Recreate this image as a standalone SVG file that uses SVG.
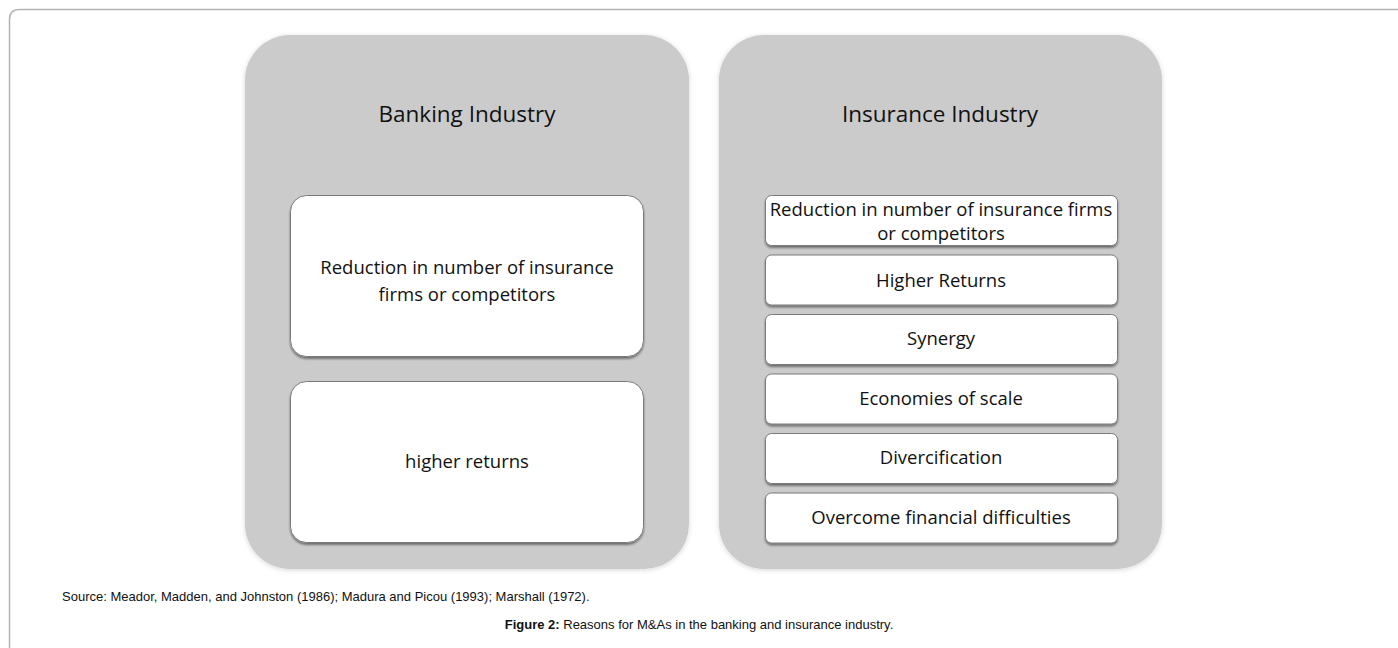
<svg xmlns="http://www.w3.org/2000/svg" width="1398" height="648" viewBox="0 0 1398 648">
  <defs>
    <filter id="panelShadow" x="-10%" y="-10%" width="120%" height="120%">
      <feDropShadow dx="0" dy="1" stdDeviation="2.5" flood-color="#000" flood-opacity="0.16"/>
    </filter>
    <filter id="boxShadow" x="-5%" y="-10%" width="110%" height="130%">
      <feDropShadow dx="0" dy="2" stdDeviation="1.2" flood-color="#000" flood-opacity="0.45"/>
    </filter>
    <style>
      .frame { fill: none; stroke: #b3b3b3; stroke-width: 1.5; }
      .panel { fill: #cbcbcb; filter: url(#panelShadow); }
      .box { fill: #ffffff; stroke: #7a7a7a; stroke-width: 1; filter: url(#boxShadow); }
      .title { font-family: "Open Sans", "Liberation Sans", sans-serif; font-size: 22.5px; fill: #111; text-anchor: middle; }
      .label { font-family: "Open Sans", "Liberation Sans", sans-serif; font-size: 18.5px; fill: #111; text-anchor: middle; }
      .caption { font-family: "Liberation Sans", Arial, sans-serif; font-size: 13px; fill: #111; }
    </style>
  </defs>

  <rect width="1398" height="648" fill="#ffffff"/>

  <!-- page frame, open to the right and bottom -->
  <path class="frame" d="M9.5,660 V19.5 Q9.5,9.5 19.5,9.5 H1400"/>

  <!-- Banking industry column -->
  <g id="banking">
    <rect class="panel" x="245" y="35" width="444" height="534" rx="45" ry="45"/>
    <text class="title" x="467" y="122">Banking Industry</text>
  </g>
  <g id="banking-reduction">
    <rect class="box" x="290.5" y="195.5" width="353" height="161" rx="16" ry="16"/>
    <text class="label" x="467" y="274">Reduction in number of insurance</text>
    <text class="label" x="467" y="301">firms or competitors</text>
  </g>
  <g id="banking-returns">
    <rect class="box" x="290.5" y="381.5" width="353" height="161" rx="16" ry="16"/>
    <text class="label" x="467" y="468">higher returns</text>
  </g>

  <!-- Insurance industry column -->
  <g id="insurance">
    <rect class="panel" x="719" y="35" width="443" height="534" rx="45" ry="45"/>
    <text class="title" x="940" y="122">Insurance Industry</text>
  </g>
  <g id="insurance-reduction">
    <rect class="box" x="765.5" y="195.5" width="352" height="50" rx="6" ry="6"/>
    <text class="label" x="941" y="216">Reduction in number of insurance firms</text>
    <text class="label" x="941" y="240">or competitors</text>
  </g>
  <g id="insurance-returns">
    <rect class="box" x="765.5" y="255" width="352" height="50" rx="6" ry="6"/>
    <text class="label" x="941" y="287">Higher Returns</text>
  </g>
  <g id="insurance-synergy">
    <rect class="box" x="765.5" y="314.5" width="352" height="50" rx="6" ry="6"/>
    <text class="label" x="941" y="345">Synergy</text>
  </g>
  <g id="insurance-scale">
    <rect class="box" x="765.5" y="374" width="352" height="50" rx="6" ry="6"/>
    <text class="label" x="941" y="405">Economies of scale</text>
  </g>
  <g id="insurance-diversification">
    <rect class="box" x="765.5" y="433.5" width="352" height="50" rx="6" ry="6"/>
    <text class="label" x="941" y="464">Divercification</text>
  </g>
  <g id="insurance-difficulties">
    <rect class="box" x="765.5" y="493" width="352" height="50" rx="6" ry="6"/>
    <text class="label" x="941" y="524">Overcome financial difficulties</text>
  </g>

  <!-- connectors: none drawn in this figure -->
  <g id="connectors"/>

  <!-- captions -->
  <text class="caption" x="62" y="601">Source: Meador, Madden, and Johnston (1986); Madura and Picou (1993); Marshall (1972).</text>
  <text class="caption" x="699" y="629" text-anchor="middle"><tspan font-weight="bold">Figure 2:</tspan> Reasons for M&amp;As in the banking and insurance industry.</text>
</svg>
